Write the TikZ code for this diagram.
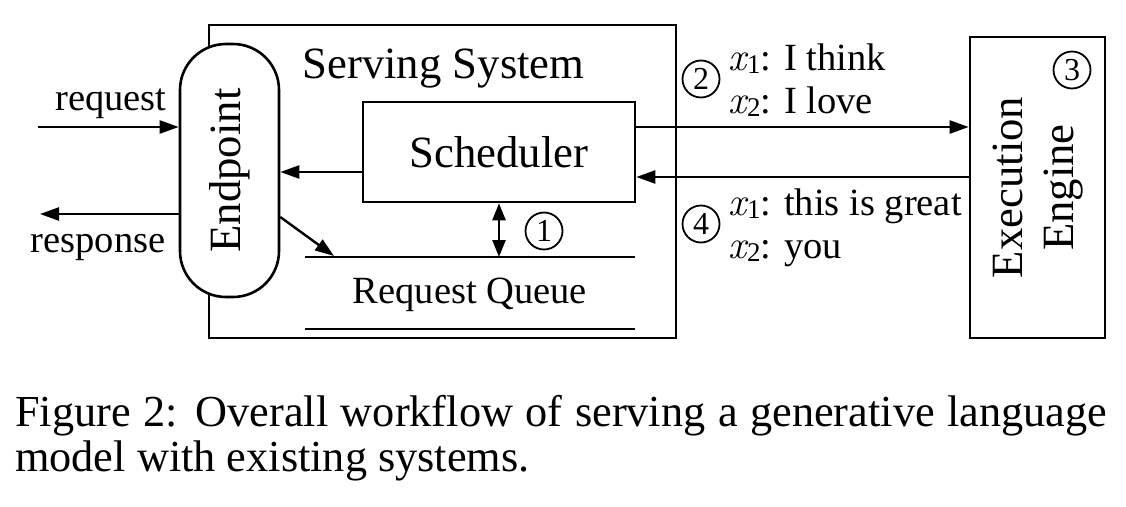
\documentclass[tikz,border=0pt]{standalone}
\usepackage{fontspec}
\setmainfont{Liberation Serif}
\newfontfamily\lmrfont{Latin Modern Roman}
\usetikzlibrary{arrows.meta}
\newcommand\xsub[1]{{\fontsize{40}{40}\selectfont\lmrfont\itshape x}\kern1pt\raisebox{-3pt}{\fontsize{27}{27}\selectfont #1}}
\tikzset{
  box/.style={draw, line width=2.6pt, inner sep=0pt},
  arr/.style={line width=2.4pt, -{Triangle[length=19pt,width=13pt]}},
  darr/.style={line width=2.4pt, {Triangle[length=17pt,width=13pt]}-{Triangle[length=17pt,width=13pt]}},
  plain/.style={line width=2.4pt},
  big/.style={font=\fontsize{44.7}{51}\selectfont, inner sep=0pt},
  small/.style={font=\fontsize{38.5}{44}\selectfont, inner sep=0pt},
  captext/.style={font=\fontsize{44.3}{50}\selectfont, inner sep=0pt},
  circnum/.style={draw, circle, line width=1.8pt, minimum size=37pt, inner sep=0pt, font=\fontsize{32}{32}\selectfont},
}
\begin{document}
\begin{tikzpicture}[x=1pt,y=-1pt]
\useasboundingbox (0,0) rectangle (1126,506);
% serving system
\node[box, minimum width=467pt, minimum height=313pt] (ss) at (442.5,181.5) {};
\node[big, anchor=base] (sstitle) at (443.5,78) {Serving System};
% endpoint
\node[box, rounded corners=46pt, minimum width=99pt, minimum height=253pt, fill=white] (ep) at (229.5,170.5) {\rotatebox{90}{\fontsize{44.7}{51}\selectfont Endpoint}};
% scheduler
\node[box, minimum width=272pt, minimum height=100pt, big] (sch) at (499,152) {Scheduler};
% execution engine
\node[box, minimum width=135pt, minimum height=301pt] (ee) at (1037.5,187.5) {\rotatebox{90}{\fontsize{44.7}{51}\selectfont\begin{tabular}{@{}c@{}}Execution\\Engine\end{tabular}}};
\node[circnum] (c3) at (1072,70) {3};
% request queue
\coordinate (qtl) at (305,257);
\coordinate (qtr) at (635,257);
\coordinate (qbl) at (305,329);
\coordinate (qbr) at (635,329);
\draw[plain] (qtl) -- (qtr);
\draw[plain] (qbl) -- (qbr);
\node[small, anchor=base] (rq) at (470,303) {Request Queue};
% request / response
\coordinate (reqin) at (38,127);
\draw[arr] (reqin) -- (reqin -| ep.west);
\node[small, anchor=base] (reqlbl) at (111,110) {request};
\coordinate (respout) at (40,214);
\draw[arr] (respout -| ep.west) -- (respout);
\node[small, anchor=base] (resplbl) at (98,252) {response};
% scheduler -> endpoint
\coordinate (s2e) at (0,172);
\draw[arr] (s2e -| sch.west) -- (s2e -| ep.east);
% endpoint -> queue
\coordinate (e2q) at (0,217);
\coordinate (qtip) at (334,256);
\draw[arr] (e2q -| ep.east) -- (qtip);
% scheduler <-> queue
\draw[darr] (sch.south) -- (sch.south |- qtl);
\node[circnum] (c1) at (544,231) {1};
% scheduler <-> engine
\coordinate (toee) at (0,127);
\coordinate (fromee) at (0,177);
\draw[arr] (toee -| sch.east) -- (toee -| ee.west);
\draw[arr] (fromee -| ee.west) -- (fromee -| sch.east);
\node[circnum] (c2) at (701,79) {2};
\node[circnum] (c4) at (701,224) {4};
\node[small, anchor=base west] (t1) at (728,70) {\xsub{1}: I think};
\node[small, anchor=base west] (t2) at (728,113) {\xsub{2}: I love};
\node[small, anchor=base west] (t3) at (728,215) {\xsub{1}: this is great};
\node[small, anchor=base west] (t4) at (728,258) {\xsub{2}: you};
% caption
\node[captext, anchor=base west] (cap1) at (15,426) {\makebox[1092pt][s]{Figure 2: Overall workflow of serving a generative language}};
\node[captext, anchor=base west] (cap2) at (15,471) {model with existing systems.};
\end{tikzpicture}
\end{document}
